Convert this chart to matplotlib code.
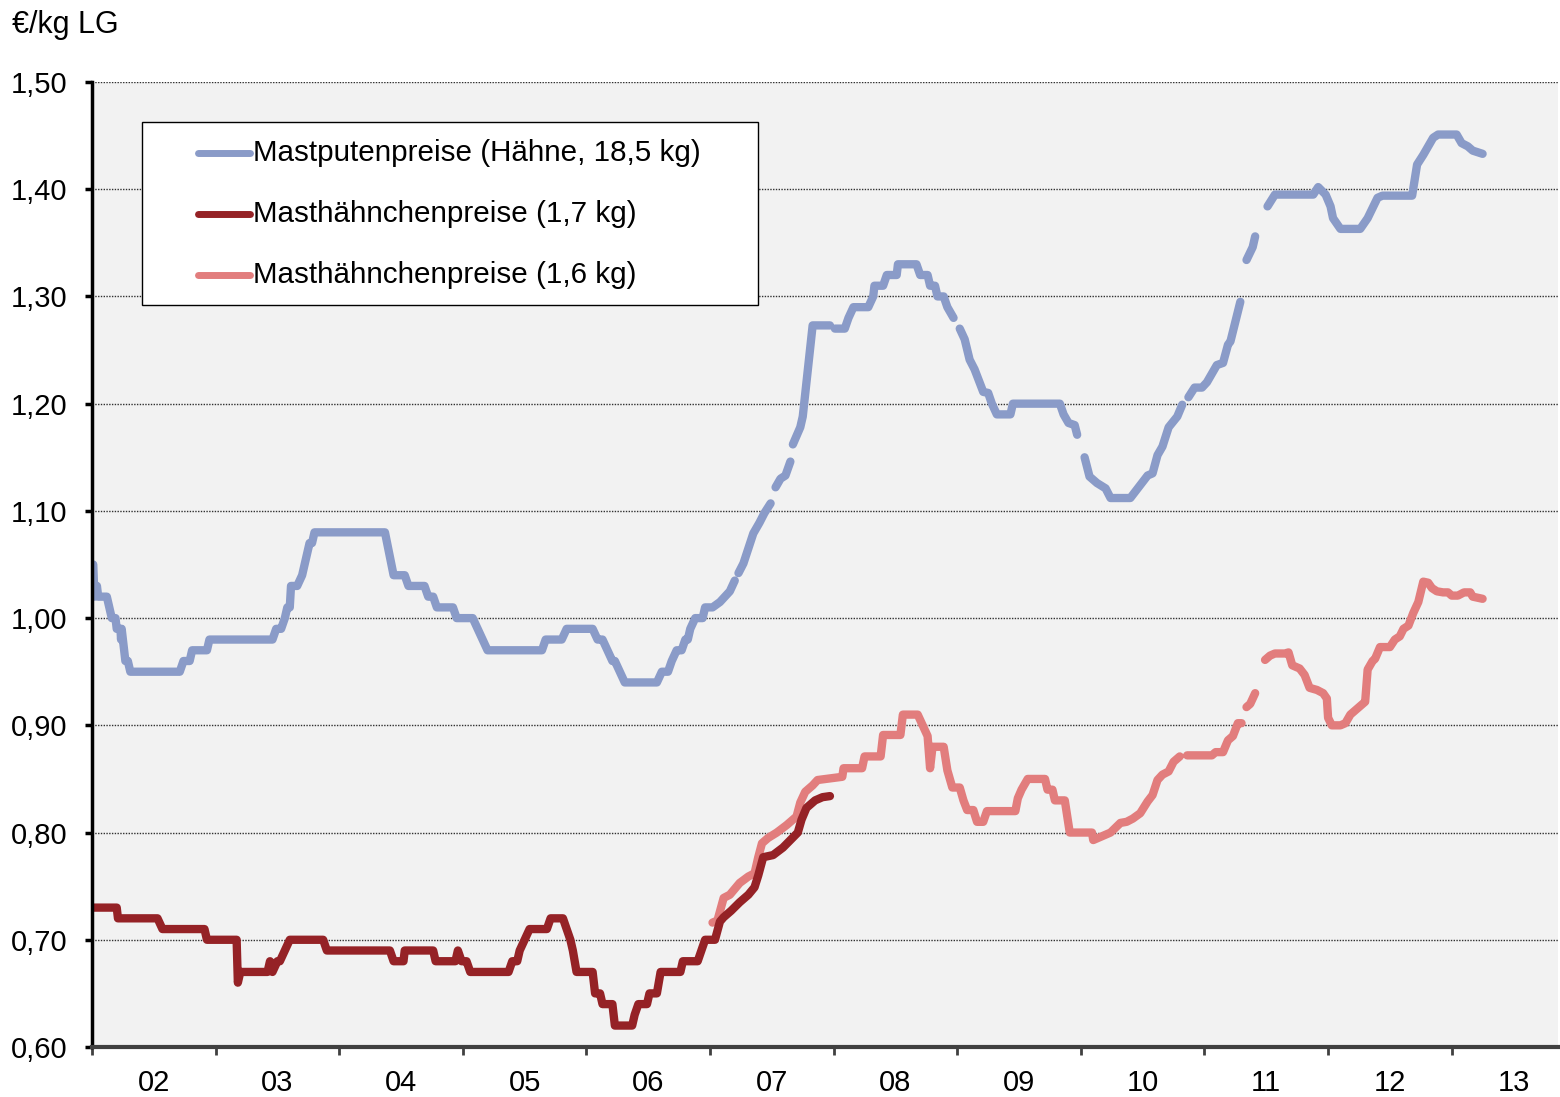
import numpy as np
import matplotlib
matplotlib.use('Agg')
import matplotlib.pyplot as plt
from matplotlib.patches import Rectangle
from matplotlib.lines import Line2D
from matplotlib.ticker import FuncFormatter

plt.rcParams['font.family'] = ['Liberation Sans', 'DejaVu Sans']

GAP = (np.nan, np.nan)

# Mastputenpreise (Hähne, 18,5 kg), €/kg LG, (decimal year, price)
puten = [
    (2002.01, 1.05), (2002.02, 1.02), (2002.04, 1.03), (2002.05, 1.02), (2002.12, 1.02),
    (2002.16, 1.00), (2002.19, 1.00), (2002.20, 0.99), (2002.23, 0.99), (2002.235, 0.98),
    (2002.24, 0.99), (2002.27, 0.96), (2002.29, 0.96), (2002.31, 0.95), (2002.71, 0.95),
    (2002.74, 0.96), (2002.79, 0.96), (2002.81, 0.97), (2002.93, 0.97), (2002.95, 0.98),
    (2003.46, 0.98), (2003.49, 0.99), (2003.53, 0.99), (2003.56, 1.00), (2003.58, 1.01),
    (2003.60, 1.01), (2003.61, 1.03), (2003.66, 1.03), (2003.70, 1.04), (2003.76, 1.07),
    (2003.78, 1.07), (2003.80, 1.08), (2004.37, 1.08), (2004.44, 1.04), (2004.53, 1.04),
    (2004.56, 1.03), (2004.69, 1.03), (2004.72, 1.02), (2004.76, 1.02), (2004.79, 1.01),
    (2004.92, 1.01), (2004.95, 1.00), (2005.08, 1.00), (2005.12, 0.99), (2005.16, 0.98),
    (2005.20, 0.97), (2005.64, 0.97), (2005.67, 0.98), (2005.80, 0.98), (2005.84, 0.99),
    (2006.05, 0.99), (2006.09, 0.98), (2006.13, 0.98), (2006.17, 0.97), (2006.21, 0.96),
    (2006.23, 0.96), (2006.27, 0.95), (2006.31, 0.94), (2006.57, 0.94), (2006.61, 0.95),
    (2006.66, 0.95), (2006.69, 0.96), (2006.73, 0.97), (2006.77, 0.97), (2006.80, 0.98),
    (2006.82, 0.98), (2006.84, 0.99), (2006.88, 1.00), (2006.94, 1.00), (2006.96, 1.01),
    (2007.02, 1.01), (2007.08, 1.015), (2007.12, 1.02), (2007.16, 1.025), (2007.20, 1.035),
    GAP,
    (2007.23, 1.042), (2007.27, 1.051), (2007.35, 1.079), (2007.40, 1.089), (2007.44, 1.098),
    (2007.49, 1.107),
    GAP,
    (2007.53, 1.122), (2007.57, 1.13), (2007.61, 1.133), (2007.65, 1.146),
    GAP,
    (2007.67, 1.162), (2007.73, 1.178), (2007.75, 1.188), (2007.83, 1.273), (2007.97, 1.273),
    GAP,
    (2008.01, 1.27), (2008.09, 1.27), (2008.12, 1.28), (2008.16, 1.29), (2008.28, 1.29),
    (2008.32, 1.30), (2008.33, 1.31), (2008.40, 1.31), (2008.43, 1.32), (2008.51, 1.32),
    (2008.52, 1.33), (2008.67, 1.33), (2008.70, 1.32), (2008.76, 1.32), (2008.78, 1.31),
    (2008.82, 1.31), (2008.84, 1.30), (2008.89, 1.30), (2008.92, 1.29), (2008.97, 1.28),
    GAP,
    (2009.02, 1.27), (2009.06, 1.26), (2009.10, 1.241), (2009.14, 1.232), (2009.18, 1.22),
    (2009.21, 1.211), (2009.25, 1.21), (2009.28, 1.20), (2009.32, 1.19), (2009.43, 1.19),
    (2009.45, 1.20), (2009.83, 1.20), (2009.86, 1.19), (2009.90, 1.182), (2009.95, 1.18),
    (2009.97, 1.171),
    GAP,
    (2010.03, 1.15), (2010.07, 1.132), (2010.13, 1.126), (2010.20, 1.121), (2010.24, 1.112),
    (2010.40, 1.112), (2010.42, 1.115), (2010.48, 1.124), (2010.54, 1.133), (2010.58, 1.135),
    (2010.62, 1.152), (2010.66, 1.16), (2010.71, 1.178), (2010.78, 1.188), (2010.82, 1.199),
    GAP,
    (2010.87, 1.206), (2010.92, 1.215), (2010.98, 1.215), (2011.02, 1.22), (2011.10, 1.236),
    (2011.15, 1.238), (2011.19, 1.255), (2011.21, 1.258), (2011.29, 1.295),
    GAP,
    (2011.34, 1.334), (2011.39, 1.346), (2011.41, 1.356),
    GAP,
    (2011.51, 1.384), (2011.57, 1.395), (2011.88, 1.395), (2011.92, 1.402), (2011.98, 1.395),
    (2012.02, 1.384), (2012.04, 1.373), (2012.10, 1.363), (2012.26, 1.363), (2012.32, 1.373),
    (2012.40, 1.392), (2012.44, 1.394), (2012.68, 1.394), (2012.72, 1.423), (2012.77, 1.432),
    (2012.85, 1.448), (2012.89, 1.451), (2013.04, 1.451), (2013.08, 1.443), (2013.13, 1.44),
    (2013.17, 1.436), (2013.25, 1.433),
]

# Masthähnchenpreise (1,7 kg)
haehnchen_17 = [
    (2002.01, 0.73), (2002.20, 0.73), (2002.21, 0.72), (2002.53, 0.72), (2002.57, 0.71),
    (2002.91, 0.71), (2002.93, 0.70), (2003.17, 0.70), (2003.18, 0.66), (2003.20, 0.67),
    (2003.42, 0.67), (2003.44, 0.68), (2003.46, 0.67), (2003.50, 0.68), (2003.52, 0.68),
    (2003.56, 0.69), (2003.60, 0.70), (2003.87, 0.70), (2003.90, 0.69), (2004.41, 0.69),
    (2004.44, 0.68), (2004.52, 0.68), (2004.53, 0.69), (2004.76, 0.69), (2004.78, 0.68),
    (2004.94, 0.68), (2004.96, 0.69), (2004.99, 0.68), (2005.03, 0.68), (2005.06, 0.67),
    (2005.37, 0.67), (2005.40, 0.68), (2005.44, 0.68), (2005.46, 0.69), (2005.50, 0.70),
    (2005.54, 0.71), (2005.68, 0.71), (2005.71, 0.72), (2005.81, 0.72), (2005.84, 0.71),
    (2005.87, 0.70), (2005.89, 0.69), (2005.92, 0.67), (2006.05, 0.67), (2006.07, 0.65),
    (2006.11, 0.65), (2006.13, 0.64), (2006.21, 0.64), (2006.23, 0.62), (2006.37, 0.62),
    (2006.39, 0.63), (2006.42, 0.64), (2006.49, 0.64), (2006.51, 0.65), (2006.57, 0.65),
    (2006.60, 0.67), (2006.76, 0.67), (2006.78, 0.68), (2006.90, 0.68), (2006.93, 0.69),
    (2006.96, 0.70), (2007.04, 0.70), (2007.08, 0.717), (2007.11, 0.721), (2007.17, 0.727),
    (2007.24, 0.735), (2007.31, 0.742), (2007.36, 0.749), (2007.39, 0.76), (2007.43, 0.777),
    (2007.51, 0.779), (2007.59, 0.786), (2007.65, 0.793), (2007.71, 0.80), (2007.74, 0.812),
    (2007.78, 0.823), (2007.85, 0.83), (2007.91, 0.833), (2007.97, 0.834),
]

# Masthähnchenpreise (1,6 kg)
haehnchen_16 = [
    (2007.02, 0.716), (2007.06, 0.718), (2007.11, 0.739), (2007.16, 0.742), (2007.24, 0.753),
    (2007.31, 0.759), (2007.36, 0.762), (2007.39, 0.777), (2007.42, 0.79), (2007.47, 0.795),
    (2007.54, 0.80), (2007.62, 0.807), (2007.70, 0.815), (2007.73, 0.828), (2007.77, 0.838),
    (2007.83, 0.844), (2007.87, 0.849), (2008.07, 0.852), (2008.08, 0.86), (2008.23, 0.86),
    (2008.25, 0.871), (2008.38, 0.871), (2008.40, 0.891), (2008.54, 0.891), (2008.56, 0.91),
    (2008.68, 0.91), (2008.72, 0.90), (2008.76, 0.89), (2008.78, 0.86), (2008.80, 0.88),
    (2008.89, 0.88), (2008.92, 0.858), (2008.96, 0.842), (2009.02, 0.842), (2009.05, 0.83),
    (2009.08, 0.821), (2009.13, 0.821), (2009.16, 0.81), (2009.21, 0.81), (2009.24, 0.82),
    (2009.47, 0.82), (2009.49, 0.832), (2009.52, 0.84), (2009.57, 0.85), (2009.71, 0.85),
    (2009.73, 0.84), (2009.77, 0.84), (2009.79, 0.83), (2009.87, 0.83), (2009.91, 0.80),
    (2010.09, 0.80), (2010.10, 0.793), (2010.16, 0.796), (2010.24, 0.80), (2010.32, 0.809),
    (2010.37, 0.81), (2010.42, 0.813), (2010.48, 0.818), (2010.54, 0.829), (2010.58, 0.835),
    (2010.62, 0.849), (2010.66, 0.854), (2010.71, 0.857), (2010.75, 0.866), (2010.80, 0.871),
    GAP,
    (2010.86, 0.872), (2011.06, 0.872), (2011.09, 0.875), (2011.15, 0.875), (2011.19, 0.886),
    (2011.23, 0.89), (2011.27, 0.902), (2011.30, 0.902),
    GAP,
    (2011.34, 0.917), (2011.37, 0.92), (2011.41, 0.93),
    GAP,
    (2011.49, 0.961), (2011.53, 0.965), (2011.57, 0.967), (2011.65, 0.967), (2011.68, 0.968),
    (2011.71, 0.956), (2011.77, 0.953), (2011.81, 0.947), (2011.85, 0.935), (2011.91, 0.933),
    (2011.96, 0.93), (2011.99, 0.925), (2012.00, 0.907), (2012.03, 0.90), (2012.10, 0.90),
    (2012.14, 0.902), (2012.18, 0.91), (2012.23, 0.915), (2012.28, 0.92), (2012.30, 0.922),
    (2012.32, 0.952), (2012.36, 0.96), (2012.38, 0.962), (2012.42, 0.973), (2012.50, 0.973),
    (2012.54, 0.98), (2012.58, 0.983), (2012.61, 0.99), (2012.65, 0.993), (2012.69, 1.005),
    (2012.73, 1.015), (2012.77, 1.034), (2012.81, 1.033), (2012.84, 1.028), (2012.88, 1.025),
    (2012.93, 1.024), (2012.97, 1.024), (2013.00, 1.021), (2013.05, 1.021), (2013.10, 1.024),
    (2013.15, 1.024), (2013.17, 1.02), (2013.25, 1.018),
]

year_starts = list(range(2002, 2014))
year_labels = ['02', '03', '04', '05', '06', '07', '08', '09', '10', '11', '12', '13']
y_ticks = [0.60, 0.70, 0.80, 0.90, 1.00, 1.10, 1.20, 1.30, 1.40, 1.50]

BLUE = '#8A9BC8'
DARK = '#952226'
LIGHT = '#E27D7D'

fig = plt.figure(figsize=(15.6, 10.97), dpi=100)
ax = fig.add_axes([92/1560, 1-1047/1097, 1466/1560, 965/1097])
ax.set_facecolor('#F2F2F2')
ax.set_xlim(2002, 2013.86)
ax.set_ylim(0.60, 1.50)


def draw(pairs, color):
    x, y = zip(*pairs)
    ax.plot(x, y, color=color, lw=6, solid_capstyle='round',
            solid_joinstyle='round', zorder=3)


draw(puten, BLUE)
draw(haehnchen_16, LIGHT)
draw(haehnchen_17, DARK)

# axes styling
ax.set_axisbelow(True)
ax.yaxis.grid(True, linestyle=(0, (1, 1)), color='#303030', lw=1)
ax.spines['top'].set_visible(False)
ax.spines['right'].set_visible(False)
ax.spines['left'].set_color('black')
ax.spines['left'].set_linewidth(2.5)
ax.spines['bottom'].set_color('#404040')
ax.spines['bottom'].set_linewidth(3)
ax.spines['left'].set_zorder(6)
ax.spines['bottom'].set_zorder(6)

ax.set_yticks(y_ticks)
ax.yaxis.set_major_formatter(FuncFormatter(lambda v, p: f'{v:.2f}'.replace('.', ',')))
ax.tick_params(axis='y', direction='out', length=5, width=2.5, pad=13, labelsize=21)

ax.set_xticks(year_starts)
ax.set_xticklabels([''] * len(year_starts))
ax.set_xticks([y + 0.5 for y in year_starts], minor=True)
ax.set_xticklabels(year_labels, minor=True)
ax.tick_params(axis='x', which='major', direction='out', length=6, width=2, color='#404040')
ax.tick_params(axis='x', which='minor', length=0, pad=16, labelsize=21)

# legend box
ax.add_patch(Rectangle((0.0341, 0.7689), 0.4202, 0.1896, transform=ax.transAxes,
                       facecolor='white', edgecolor='black', lw=1, zorder=5))
entries = [('Mastputenpreise (Hähne, 18,5 kg)', BLUE),
           ('Masthähnchenpreise (1,7 kg)', DARK),
           ('Masthähnchenpreise (1,6 kg)', LIGHT)]
for (label, color), yrow in zip(entries, [0.9264, 0.8632, 0.8000]):
    ax.add_line(Line2D([0.0723, 0.1078], [yrow, yrow], transform=ax.transAxes,
                       color=color, lw=5, solid_capstyle='round', zorder=6))
    ax.text(0.1098, yrow, label, transform=ax.transAxes, va='center', ha='left',
            fontsize=21.3, zorder=6)

fig.text(12/1560, 1-33/1097, '€/kg LG', fontsize=22, va='baseline', ha='left')

fig.savefig('out.png', dpi=100)
